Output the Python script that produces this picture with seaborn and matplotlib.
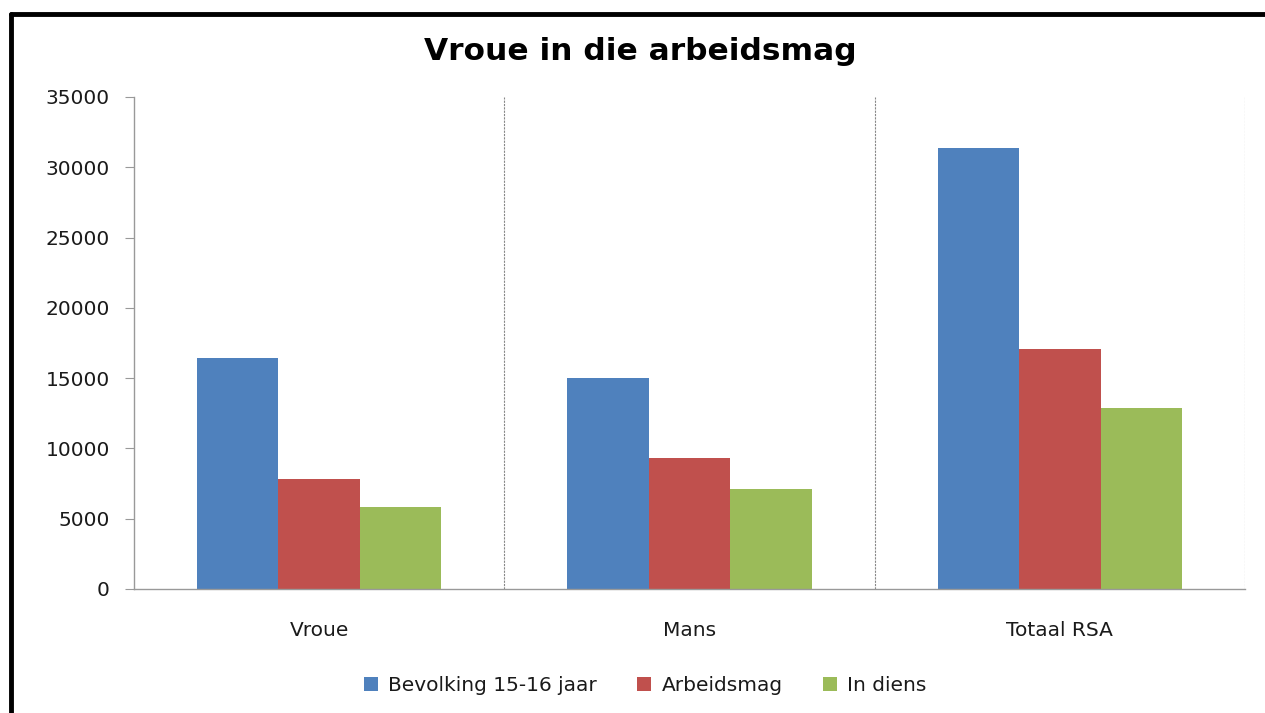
import pandas as pd
import seaborn as sns
import matplotlib.pyplot as plt
from matplotlib.lines import Line2D
from matplotlib.patches import Patch

# Chart data
categories = ["Vroue", "Mans", "Totaal RSA"]
series_names = ["Bevolking 15-16 jaar", "Arbeidsmag", "In diens"]
bevolking = [16400, 15000, 31400]
arbeidsmag = [7800, 9300, 17100]
in_diens = [5800, 7100, 12900]
colors = ["#4F81BD", "#C0504D", "#9BBB59"]

rows = []
for name, vals in zip(series_names, [bevolking, arbeidsmag, in_diens]):
    for cat, v in zip(categories, vals):
        rows.append({"cat": cat, "series": name, "value": v})
df = pd.DataFrame(rows)

sns.set_style("white")
plt.rcParams["font.family"] = ["DejaVu Sans"]

fig = plt.figure(figsize=(12.65, 7.13), dpi=100)
ax = fig.add_axes([134 / 1265, 1 - 589 / 713, (1245 - 134) / 1265, (589 - 97) / 713])

sns.barplot(
    data=df, x="cat", y="value", hue="series", order=categories,
    hue_order=series_names, palette=colors, width=0.66, saturation=1,
    errorbar=None, ax=ax, legend=False, linewidth=0, edgecolor="none",
)

ax.set_xlim(-0.5, 2.5)
ax.set_ylim(0, 35000)
ax.set_yticks(range(0, 35001, 5000))
ax.set_xlabel("")
ax.set_ylabel("")

# Dashed separators between categories
for xv in [0.5, 1.5, 2.5]:
    ax.axvline(xv, color="#888888", linestyle=(0, (2, 1)), linewidth=0.8, zorder=0)

for side in ["top", "right"]:
    ax.spines[side].set_visible(False)
for side in ["left", "bottom"]:
    ax.spines[side].set_color("#999999")
    ax.spines[side].set_linewidth(1)

ax.set_xticks([-0.5, 0.5, 1.5, 2.5], minor=True)
ax.tick_params(axis="x", which="major", length=0, pad=23, labelsize=14.5, labelcolor="#1a1a1a")
ax.tick_params(axis="x", which="minor", length=6.5, color="#999999", direction="out")
ax.tick_params(axis="y", length=6.5, color="#999999", direction="out", left=True,
               labelsize=14.5, labelcolor="#1a1a1a", pad=11)

fig.text(0.506, 0.928, "Vroue in die arbeidsmag", ha="center", va="center",
         fontsize=22.5, fontweight="bold", color="black")

handles = [Patch(facecolor=c, edgecolor="none") for c in colors]
fig.legend(handles, series_names, loc="center", bbox_to_anchor=(0.51, 0.039), ncol=3,
           frameon=False, fontsize=14.5, handlelength=0.7, handleheight=0.7,
           handletextpad=0.5, columnspacing=2.0, labelcolor="#1a1a1a")

# Black frame visible on top and left
fig.add_artist(Line2D([11 / 1265, 1], [1 - 14 / 713, 1 - 14 / 713], color="black",
                      linewidth=3.5, transform=fig.transFigure))
fig.add_artist(Line2D([11 / 1265, 11 / 1265], [0, 1 - 14 / 713], color="black",
                      linewidth=3.5, transform=fig.transFigure))

fig.savefig("out.png", dpi=100)
